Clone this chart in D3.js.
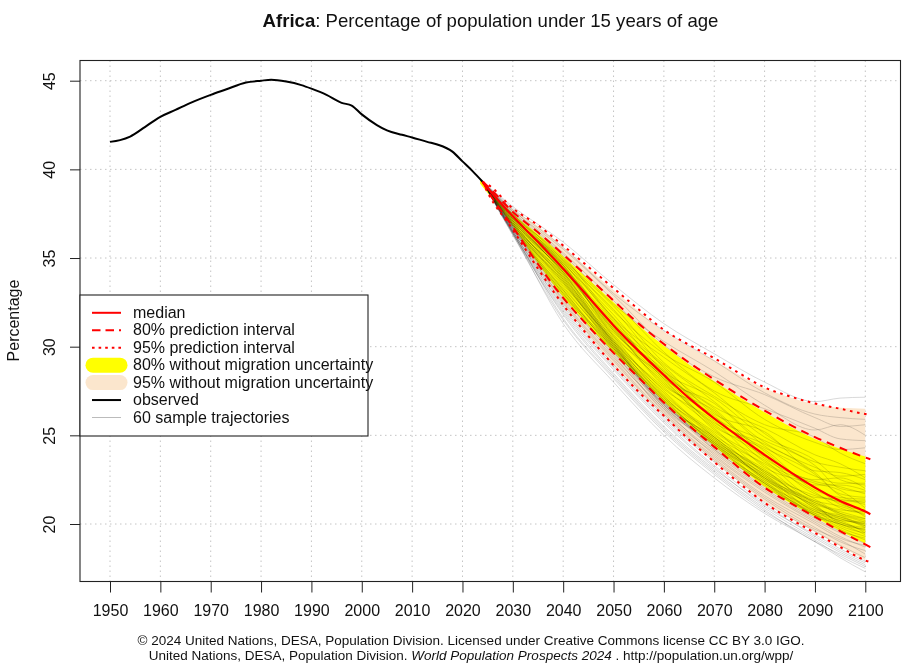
<!DOCTYPE html>
<html>
<head>
<meta charset="utf-8">
<script src="https://cdn.jsdelivr.net/npm/d3@7"></script>
<style>
  html, body { margin: 0; padding: 0; background: #fff; }
  svg { display: block; }
  text { font-family: "Liberation Sans", Arial, sans-serif; fill: #111; }
</style>
</head>
<body>
<div id="chart"></div>
<script>
// values
var obsYears = [1950,1952,1954,1957,1960,1963,1966,1970,1973,1977,1980,1982,1985,1988,1990,1993,1996,1998,2000,2003,2005,2008,2010,2013,2015,2018,2020,2022,2024];
var obsValues = [41.55,41.65,41.85,42.4,42.96,43.35,43.75,44.2,44.5,44.9,45.0,45.05,44.95,44.75,44.55,44.2,43.75,43.6,43.1,42.5,42.2,41.95,41.8,41.55,41.4,41.0,40.45,39.9,39.3];

var fcYears = [2024,2025,2030,2035,2040,2045,2050,2055,2060,2065,2070,2075,2080,2085,2090,2095,2100,2101];
var medianValues = [39.3,38.95,37.35,35.9,34.4,32.8,31.2,29.75,28.4,27.1,25.95,24.9,23.9,22.95,22.05,21.3,20.7,20.55];
var pi80Upper = [39.3,39.05,37.6,36.45,35.2,33.9,32.6,31.3,30.15,29.1,28.15,27.25,26.4,25.6,24.9,24.3,23.75,23.65];
var pi80Lower = [39.3,38.8,36.75,34.65,32.75,31.15,29.65,28.25,26.85,25.55,24.35,23.15,22.05,21.2,20.4,19.6,18.85,18.7];
var pi95Upper = [39.3,39.15,37.8,36.85,35.7,34.5,33.3,32.1,30.95,30.1,29.35,28.5,27.7,27.2,26.8,26.5,26.2,26.15];
var pi95Lower = [39.3,38.7,36.6,34.4,32.35,30.6,28.95,27.45,26.1,24.75,23.5,22.3,21.2,20.3,19.5,18.7,17.95,17.85];

var bandYears = [2023.5,2030,2035,2040,2045,2050,2055,2060,2065,2070,2075,2080,2085,2090,2095,2100];
var yellowUpper = [39.4,37.5,36.35,35.1,33.8,32.5,31.2,30.05,29.0,28.05,27.15,26.3,25.5,24.8,24.25,23.8];
var yellowLower = [39.2,36.8,34.7,32.8,31.2,29.7,28.3,26.9,25.6,24.4,23.2,22.1,21.2,20.4,19.6,18.9];
var beigeUpper = [39.4,37.75,36.8,35.6,34.4,33.2,32.0,30.85,30.0,29.25,28.4,27.65,27.15,26.75,26.55,26.5];
var beigeLower = [39.2,36.65,34.45,32.4,30.65,29.0,27.5,26.15,24.8,23.55,22.35,21.25,20.35,19.55,18.75,17.95];

var trajYears = [2024,2030,2040,2050,2060,2070,2080,2090,2095,2100];
var trajStart = 39.3;
var trajectories = [
  [37.9,35.9,33.5,31.3,29.6,28.0,26.9,27.1,27.15],
  [37.8,35.6,33.0,30.9,29.2,27.4,26.2,26.0,25.9],
  [37.7,35.5,32.9,30.1,28.3,27.3,26.0,25.5,25.6],
  [37.6,35.2,32.4,30.3,28.6,26.7,25.3,25.6,25.0],
  [37.7,35.3,32.6,29.7,27.5,26.5,25.4,24.8,24.7],
  [37.5,35.0,32.0,29.6,28.0,25.9,24.6,24.2,24.3],
  [37.6,34.9,32.3,29.1,27.2,25.6,24.9,24.0,23.4],
  [37.4,35.1,31.6,29.4,27.4,25.1,23.5,23.2,23.0],
  [37.5,34.8,32.1,28.8,26.6,25.4,23.9,23.4,22.6],
  [37.3,34.9,31.5,29.0,26.9,24.6,23.2,22.7,22.8],
  [37.4,34.7,31.8,28.6,27.1,24.9,23.6,22.5,22.2],
  [37.3,34.6,31.2,28.9,26.2,25.2,23.0,22.9,22.5],
  [37.5,34.7,31.6,28.2,26.8,24.4,22.7,22.3,22.3],
  [37.2,34.8,31.0,28.7,26.0,24.7,23.3,22.0,21.8],
  [37.4,34.5,31.4,28.4,26.5,23.9,22.5,22.6,22.0],
  [37.3,34.6,30.9,28.1,25.7,24.5,22.9,21.7,21.5],
  [37.2,34.4,31.3,28.5,26.3,24.1,22.2,22.2,21.9],
  [37.4,34.5,30.8,28.6,25.9,24.3,22.8,21.6,21.2],
  [37.1,34.3,31.1,27.8,26.4,23.7,22.4,22.1,21.7],
  [37.3,34.6,30.6,28.3,25.5,24.2,21.9,21.5,21.4],
  [37.2,34.2,31.0,27.9,26.1,23.5,22.3,21.9,20.9],
  [37.1,34.4,30.7,28.0,25.6,23.8,21.7,21.3,21.3],
  [37.3,34.1,30.4,27.6,25.8,23.2,22.1,21.1,20.8],
  [37.0,34.3,30.9,28.2,25.3,23.6,21.5,21.4,21.1],
  [37.2,34.2,30.5,27.5,25.0,23.4,21.8,20.9,20.6],
  [37.1,34.0,30.3,27.7,25.4,22.9,21.6,21.2,20.4],
  [36.9,34.1,30.6,27.3,25.2,23.3,21.2,20.8,20.7],
  [37.1,34.2,30.2,27.4,24.9,23.0,21.4,20.6,20.2],
  [37.0,33.9,30.4,27.1,25.1,22.7,21.3,21.0,20.5],
  [36.9,34.0,30.1,27.2,24.7,23.1,20.9,20.4,20.0],
  [37.0,33.8,30.3,26.9,24.8,22.6,21.1,20.7,20.3],
  [36.8,33.9,30.0,27.0,24.6,22.8,20.7,20.3,19.9],
  [36.9,33.7,30.2,26.7,24.9,22.5,21.0,20.1,19.8],
  [37.0,33.8,29.9,26.8,24.4,22.4,20.8,20.5,20.1],
  [36.8,33.6,30.1,26.6,24.5,22.6,20.5,20.0,19.7],
  [36.7,33.7,29.8,26.9,24.2,22.3,20.6,20.2,19.5],
  [36.9,33.5,30.3,27.2,24.9,22.9,21.2,20.6,20.3],
  [36.8,33.4,30.0,27.0,24.6,23.0,21.0,20.3,20.0],
  [36.9,33.6,30.2,26.8,24.8,22.6,21.3,20.5,19.9],
  [36.8,33.2,29.9,27.1,24.5,22.8,20.9,20.2,20.1],
  [36.7,33.3,30.1,26.7,24.7,22.5,21.1,20.0,19.7],
  [36.7,33.1,29.8,26.9,24.4,22.7,20.7,20.4,19.8],
  [36.8,33.0,30.0,26.6,24.6,22.3,20.8,19.9,19.5],
  [36.6,33.2,29.7,26.8,24.3,22.4,20.5,20.1,19.6],
  [36.7,32.9,29.9,26.5,24.5,22.2,20.6,19.8,19.3],
  [36.6,33.0,29.6,26.7,24.2,22.3,20.4,20.0,19.4],
  [36.6,32.8,29.5,26.4,24.1,22.1,20.5,19.7,19.1],
  [36.5,32.7,29.7,26.3,24.0,22.0,20.3,19.6,19.2],
  [36.6,32.6,29.4,26.5,23.9,21.9,20.2,19.5,18.9],
  [36.5,32.5,29.3,26.2,23.8,21.8,20.1,19.3,18.7],
  [36.5,32.4,29.2,26.1,23.7,21.6,20.0,19.2,18.8],
  [36.4,32.3,29.0,26.0,23.6,21.5,19.8,19.0,18.5],
  [36.5,32.2,28.9,25.9,23.5,21.4,19.7,19.1,18.3],
  [36.4,32.1,28.8,25.8,23.3,21.2,19.6,18.8,18.1],
  [36.4,32.0,28.7,25.7,23.2,21.0,19.4,18.6,17.9],
  [36.3,31.9,28.5,25.5,23.1,21.1,19.3,18.5,17.8],
  [36.4,31.8,28.4,25.4,23.0,20.9,19.2,18.4,17.7],
  [36.3,31.5,28.2,25.2,22.8,20.7,19.1,18.2,17.5],
  [36.5,31.6,28.3,25.3,22.9,20.8,19.0,18.3,17.6],
  [36.4,31.3,28.0,25.0,22.6,20.6,19.0,18.1,17.3]
];

var xTicks = d3.range(1950, 2101, 10);
var yTicks = [20, 25, 30, 35, 40, 45];

var legendLabels = ["median", "80% prediction interval", "95% prediction interval",
    "80% without migration uncertainty", "95% without migration uncertainty",
    "observed", "60 sample trajectories"];

var width = 903, height = 668;
var plotLeft = 80, plotRight = 900.5, plotTop = 60.5, plotBottom = 581.5;
var Red = "#ff0000", Yellow = "#ffff00", Beige = "#fbe6cd";
var Dashed = "8 6", Dotted = "2.6 4.6";

var x = d3.scaleLinear().domain([1950, 2100]).range([110, 865.3]);
var y = d3.scaleLinear().domain([20, 45]).range([524, 80.7]);

var svg = d3.select("#chart").append("svg")
    .attr("width", width)
    .attr("height", height);

svg.append("rect")
    .attr("width", width)
    .attr("height", height)
    .attr("fill", "#fff");

// grid
var grid = svg.append("g").attr("class", "grid")
    .attr("stroke", "#c4c4c4")
    .attr("stroke-width", 1)
    .attr("stroke-dasharray", "1.5 3.5");
grid.selectAll("line.v").data(xTicks).enter().append("line")
    .attr("class", "v")
    .attr("x1", function(d){return x(d)})
    .attr("x2", function(d){return x(d)})
    .attr("y1", plotTop)
    .attr("y2", plotBottom);
grid.selectAll("line.h").data(yTicks).enter().append("line")
    .attr("class", "h")
    .attr("x1", plotLeft)
    .attr("x2", plotRight)
    .attr("y1", function(d){return y(d)})
    .attr("y2", function(d){return y(d)});

// bands
function drawBand(years, lower, upper, color) {
    var area = d3.area()
	.x(function(d){return x(d)})
	.y0(function(d, i){return y(lower[i])})
	.y1(function(d, i){return y(upper[i])})
	.curve(d3.curveMonotoneX);
    svg.append("path")
	.attr("d", area(years))
	.attr("fill", color);
}
drawBand(bandYears, beigeLower, beigeUpper, Beige);
drawBand(bandYears, yellowLower, yellowUpper, Yellow);

// sample trajectories
var trajLine = d3.line()
    .x(function(d){return x(d[0])})
    .y(function(d){return y(d[1])})
    .curve(d3.curveMonotoneX);

svg.append("g").attr("class", "trajectories")
    .selectAll("path").data(trajectories).enter().append("path")
    .attr("d", function(row) {
	var pts = [[trajYears[0], trajStart]];
	for (var i = 0; i < row.length; i++) pts.push([trajYears[i+1], row[i]]);
	return trajLine(pts);
    })
    .attr("fill", "none")
    .attr("stroke", "#c8c8c8")
    .attr("stroke-width", 0.7)
    .style("mix-blend-mode", "multiply");

// forecast lines
function drawLine(years, values, color, w, dash) {
    var pts = [];
    for (var i = 0; i < years.length; i++) pts.push([years[i], values[i]]);
    var p = svg.append("path")
	.attr("d", trajLine(pts))
	.attr("fill", "none")
	.attr("stroke", color)
	.attr("stroke-width", w);
    if (dash) p.attr("stroke-dasharray", dash);
}
drawLine(obsYears, obsValues, "#000", 2);
drawLine(fcYears, pi95Upper, Red, 2, Dotted);
drawLine(fcYears, pi95Lower, Red, 2, Dotted);
drawLine(fcYears, pi80Upper, Red, 2, Dashed);
drawLine(fcYears, pi80Lower, Red, 2, Dashed);
drawLine(fcYears, medianValues, Red, 2.2);

// axes
var xAxis = svg.append("g")
    .attr("transform", "translate(0," + plotBottom + ")")
    .call(d3.axisBottom(x).tickValues(xTicks).tickFormat(d3.format("d")).tickSize(11).tickPadding(12));
xAxis.select(".domain").remove();
xAxis.selectAll("line").attr("stroke", "#222");
xAxis.selectAll("text").attr("font-size", 16).attr("fill", "#111");

var yAxis = svg.append("g")
    .attr("transform", "translate(" + plotLeft + ",0)")
    .call(d3.axisLeft(y).tickValues(yTicks).tickFormat(d3.format("d")).tickSize(10));
yAxis.select(".domain").remove();
yAxis.selectAll("line").attr("stroke", "#222");
yAxis.selectAll("text")
    .attr("font-size", 16)
    .attr("fill", "#111")
    .attr("x", 0)
    .attr("dy", 0)
    .attr("text-anchor", "middle")
    .attr("transform", "translate(-25,0) rotate(-90)");

svg.append("rect")
    .attr("x", plotLeft)
    .attr("y", plotTop)
    .attr("width", plotRight - plotLeft)
    .attr("height", plotBottom - plotTop)
    .attr("fill", "none")
    .attr("stroke", "#222")
    .attr("stroke-width", 1.1);

// axis title
svg.append("text")
    .attr("transform", "translate(19,320.5) rotate(-90)")
    .attr("text-anchor", "middle")
    .attr("font-size", 16)
    .text("Percentage");

// legend
var legend = svg.append("g").attr("class", "legend");
legend.append("rect")
    .attr("x", 80)
    .attr("y", 295)
    .attr("width", 288)
    .attr("height", 141)
    .attr("fill", "#fff")
    .attr("stroke", "#222")
    .attr("stroke-width", 1.1);

var legendY = d3.scalePoint().domain(d3.range(legendLabels.length)).range([312.8, 417.5]);
var legendKeys = [
    {color: Red, w: 2},
    {color: Red, w: 2, dash: "8.5 5"},
    {color: Red, w: 2, dash: "2.6 4"},
    {color: Yellow, w: 15, cap: true},
    {color: Beige, w: 15, cap: true},
    {color: "#000", w: 2},
    {color: "#aaa", w: 0.8}
];
legend.selectAll("line").data(legendKeys).enter().append("line")
    .attr("x1", function(d){return d.cap ? 93 : 92})
    .attr("x2", function(d){return d.cap ? 120 : 121})
    .attr("y1", function(d, i){return legendY(i)})
    .attr("y2", function(d, i){return legendY(i)})
    .attr("stroke", function(d){return d.color})
    .attr("stroke-width", function(d){return d.w})
    .attr("stroke-linecap", function(d){return d.cap ? "round" : "butt"})
    .attr("stroke-dasharray", function(d){return d.dash ? d.dash : null});
legend.selectAll("text").data(legendLabels).enter().append("text")
    .attr("x", 133)
    .attr("y", function(d, i){return legendY(i) + 5})
    .attr("font-size", 16)
    .text(function(d){return d});

// title
var title = svg.append("text")
    .attr("x", 490.5)
    .attr("y", 26.5)
    .attr("text-anchor", "middle")
    .attr("font-size", 18.6);
title.append("tspan").attr("font-weight", "bold").text("Africa");
title.append("tspan").text(": Percentage of population under 15 years of age");

// footer
svg.append("text")
    .attr("x", 471)
    .attr("y", 645)
    .attr("text-anchor", "middle")
    .attr("font-size", 13.5)
    .text("\u00a9 2024 United Nations, DESA, Population Division. Licensed under Creative Commons license CC BY 3.0 IGO.");
var foot = svg.append("text")
    .attr("x", 471)
    .attr("y", 660)
    .attr("text-anchor", "middle")
    .attr("font-size", 13.5);
foot.append("tspan").text("United Nations, DESA, Population Division. ");
foot.append("tspan").attr("font-style", "italic").text("World Population Prospects 2024");
foot.append("tspan").text(" . http://population.un.org/wpp/");
</script>
</body>
</html>
